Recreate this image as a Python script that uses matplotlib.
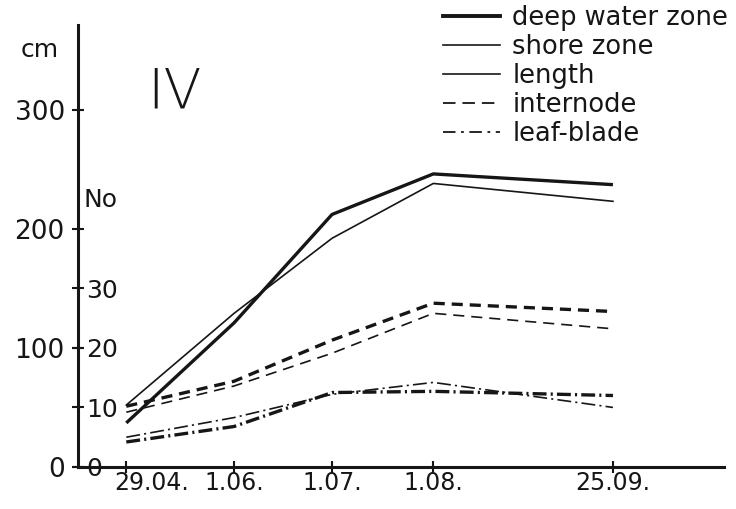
import datetime as dt
import matplotlib
matplotlib.use("Agg")
import matplotlib.pyplot as plt
import matplotlib.transforms as mtransforms
from matplotlib.lines import Line2D

# values (length in cm, internode/leaf-blade in No)
dates = ["29.04.", "1.06.", "1.07.", "1.08.", "25.09."]
length_deep = [37, 121, 212, 246, 237]
length_shore = [52, 129, 192, 238, 223]
internode_deep = [10.2, 14.4, 21.3, 27.5, 26.1]
internode_shore = [9.2, 13.6, 19.1, 25.8, 23.2]
leaf_deep = [4.2, 6.8, 12.5, 12.7, 12.0]
leaf_shore = [5.0, 8.3, 12.2, 14.2, 10.0]
cm_ticks = [0, 100, 200, 300]
no_ticks = [0, 10, 20, 30]
legend_labels = ["deep water zone", "shore zone", "length", "internode", "leaf-blade"]

plt.rcParams["font.family"] = ["DejaVu Sans"]
plt.rcParams["lines.scale_dashes"] = False

ink = "#161616"
thick = 2.4
thin = 1.2
dash_thick = (0, (8, 5))
dash_thin = (0, (8, 5))
dashdot = (0, (10, 3, 1.5, 3))

x = [dt.datetime.strptime(d + "1975", "%d.%m.%Y") for d in dates]

fig = plt.figure(figsize=(7.36, 5.09), dpi=100)
ax = fig.add_axes([78 / 736, 42 / 509, 646 / 736, 442 / 509])
ax.set_ylim(0, 371)
ax.set_xlim(dt.datetime(1975, 4, 14, 5), dt.datetime(1975, 10, 29))
for s in ["top", "right"]:
    ax.spines[s].set_visible(False)
for s in ["left", "bottom"]:
    ax.spines[s].set_linewidth(2.2)
    ax.spines[s].set_color(ink)

# length (cm)
ax.plot(x, length_deep, color=ink, lw=thick, solid_capstyle="butt")
ax.plot(x, length_shore, color=ink, lw=thin)

# internode and leaf-blade counts on their own scale (1 No = 5 cm)
ax2 = ax.twinx()
ax2.set_ylim(0, 371 / 5)
ax2.axis("off")
ax2.plot(x, internode_deep, color=ink, lw=thick, ls=dash_thick)
ax2.plot(x, internode_shore, color=ink, lw=thin, ls=dash_thin)
ax2.plot(x, leaf_deep, color=ink, lw=thick, ls=dashdot)
ax2.plot(x, leaf_shore, color=ink, lw=thin, ls=dashdot)

ax.set_yticks(cm_ticks)
ax.tick_params(axis="y", direction="inout", length=9, width=1.5, colors=ink,
               labelsize=19, pad=5)
ax.set_xticks(x, dates)
ax.tick_params(axis="x", direction="inout", length=8, width=1.5, colors=ink,
               labelsize=17, pad=-1)
first = ax.get_xticklabels()[0]
first.set_ha("left")
first.set_transform(first.get_transform() +
                    mtransforms.ScaledTranslation(-0.12, 0, fig.dpi_scale_trans))

sec = ax.secondary_yaxis("left", functions=(lambda c: c / 5, lambda n: n * 5))
sec.set_alignment("right")
sec.spines["right"].set_visible(False)
sec.spines["left"].set_visible(False)
sec.set_yticks(no_ticks)
sec.tick_params(direction="inout", length=8, width=1.5, colors=ink,
                labelsize=18, pad=2)

fig.text(40 / 736, 1 - 50 / 509, "cm", fontsize=18, ha="center", va="center", color=ink)
fig.text(100 / 736, 1 - 200 / 509, "No", fontsize=18, ha="center", va="center", color=ink)
fig.text(175 / 736, 1 - 93 / 509, "IV", fontsize=40, fontweight="light",
         ha="center", va="center", color=ink)

handles = [Line2D([], [], color=ink, lw=2.8),
           Line2D([], [], color=ink, lw=thin),
           Line2D([], [], color=ink, lw=thin),
           Line2D([], [], color=ink, lw=1.3, ls=(0, (9, 5))),
           Line2D([], [], color=ink, lw=1.3, ls=(0, (9, 4, 2, 4)))]
fig.legend(handles, legend_labels, loc="upper left", bbox_to_anchor=(443 / 736, 1 - 5 / 509),
           frameon=False, fontsize=18.5, labelspacing=0.12, handlelength=2.2,
           handletextpad=0.5, borderpad=0, borderaxespad=0, labelcolor=ink)

fig.savefig("out.png", dpi=100, facecolor="white")
